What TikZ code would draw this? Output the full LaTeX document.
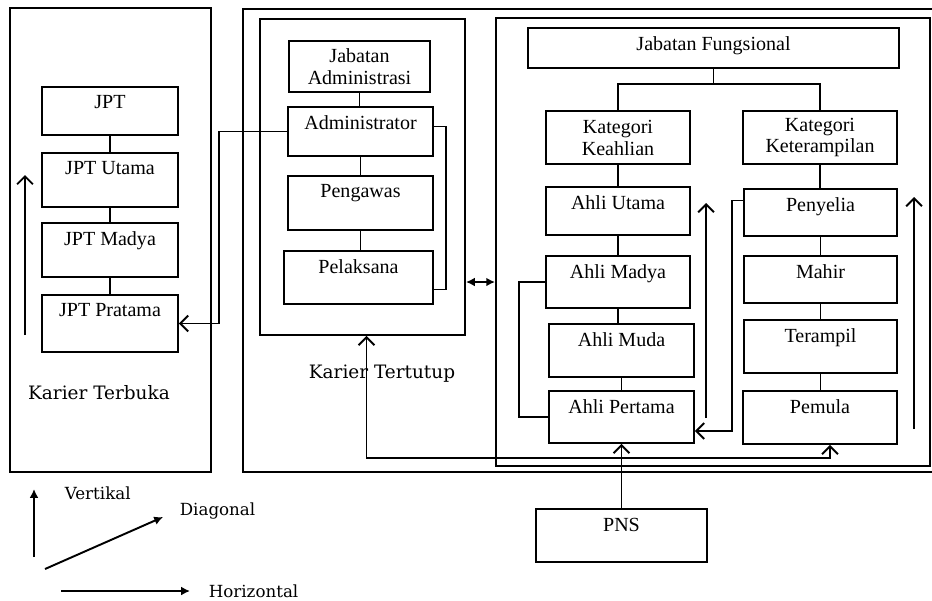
\documentclass[tikz,border=0pt]{standalone}
\usepackage{fontspec}
\setmainfont{Liberation Serif}
\newfontfamily\karierfont{DejaVu Serif}
\usetikzlibrary{arrows.meta,calc}
\begin{document}
\begin{tikzpicture}[x=0.02cm,y=-0.02cm,line width=1.1pt,
                    >={Straight Barb[length=4.5pt,width=9pt]},
                    every node/.style={font=\fontsize{11.4}{12.5}\selectfont},
                    box/.style 2 args={draw,inner sep=0pt,align=center,minimum width=#1*0.02cm,minimum height=#2*0.02cm},
                    top/.style={label={[anchor=north,inner sep=0pt,yshift=-5pt]north:#1}},
                    legend tip/.style={-{Latex[length=5pt,width=5pt]}},
                    karier/.style={font=\karierfont\fontsize{10.5}{12}\selectfont}
                   ]
  \useasboundingbox (0,0) rectangle (932,600);
  % frames
  \draw (10,8) rectangle (211,472);
  \draw (932,9) -| (243,472) -- (932,472);
  \node[box={205}{316}] (adm) at (362.5,177) {};
  \node[box={434}{448}] (fung) at (713,242) {};
  % karier terbuka
  \node[box={136}{48},top=JPT] (jpt) at (110,111) {};
  \node[box={136}{54},top=JPT Utama] (jptu) at (110,180) {};
  \node[box={136}{54},top=JPT Madya] (jptm) at (110,250) {};
  \node[box={136}{57},top=JPT Pratama] (jptp) at (110,323.5) {};
  \node[karier] (terbuka) at (99,393) {Karier Terbuka};
  % jabatan administrasi
  \node[box={141}{51}] (jadm) at (359.5,66.5) {Jabatan\\Administrasi};
  \node[box={145}{49},top=Administrator] (admr) at (360.5,131.5) {};
  \node[box={145}{54},top=Pengawas] (pengw) at (360.5,203) {};
  \node[box={149}{53},top=Pelaksana] (pelak) at (358.5,277.5) {};
  \node[karier] (tertutup) at (382,374) {Karier Tertutup};
  % jabatan fungsional
  \node[box={371}{40},top=Jabatan Fungsional] (jfung) at (713.5,48) {};
  \node[box={144}{53}] (kahli) at (618,137.5) {Kategori\\Keahlian};
  \node[box={154}{53}] (kterm) at (820,137.5) {Kategori\\Keterampilan};
  \node[box={144}{48},top=Ahli Utama] (autama) at (618,211) {};
  \node[box={144}{52},top=Ahli Madya] (amadya) at (618,282) {};
  \node[box={145}{53},top=Ahli Muda] (amuda) at (621.5,350.5) {};
  \node[box={145}{52},top=Ahli Pertama] (apert) at (621.5,417) {};
  \node[box={153}{47},top=Penyelia] (penye) at (820.5,212.5) {};
  \node[box={153}{47},top=Mahir] (mahir) at (820.5,279.5) {};
  \node[box={153}{53},top=Terampil] (teramp) at (820.5,346.5) {};
  \node[box={154}{53},top=Pemula] (pemula) at (820,417.5) {};
  \node[box={171}{53},top=PNS] (pns) at (621.5,535.5) {};
  % legend
  \coordinate (v0) at (34,557);   \coordinate (v1) at (34,489);
  \coordinate (d0) at (45,569);   \coordinate (d1) at (163,517);
  \coordinate (h0) at (61,591);   \coordinate (h1) at (190,591);
  \node[karier,font=\karierfont\fontsize{9.5}{11}\selectfont,anchor=west] (vert) at (58,493) {Vertikal};
  \node[karier,font=\karierfont\fontsize{9.5}{11}\selectfont,anchor=west] (diag) at (173,511) {Diagonal};
  \node[karier,font=\karierfont\fontsize{9.5}{11}\selectfont,anchor=west] (horz) at (202,591) {Horizontal};
  \draw[legend tip] (v0) -- (v1);
  \draw[legend tip] (d0) -- (d1);
  \draw[legend tip] (h0) -- (h1);
  % free arrows
  \coordinate (kt0) at (25,335);  \coordinate (kt1) at (25,175);
  \coordinate (ka0) at (706,418); \coordinate (ka1) at (706,203);
  \coordinate (kr0) at (914,429); \coordinate (kr1) at (914,197);
  \coordinate (jn) at (621.5,458);
  % stacks
  \path (jpt) edge (jptu)
        (jptu) edge (jptm)
        (jptm) edge (jptp);
  \draw (jadm.south) -- (jadm.south |- admr.north);
  \draw (admr.south) -- (admr.south |- pengw.north);
  \draw (pengw.south) -- (pengw.south |- pelak.north);
  \draw (jfung.south) -- ++(0,15) coordinate (jf) -| (kahli.north);
  \draw (jf) -| (kterm.north);
  \draw (kahli.south) -- (kahli.south |- autama.north);
  \draw (autama.south) -- (autama.south |- amadya.north);
  \draw (amadya.south) -- (amadya.south |- amuda.north);
  \draw (amuda.south) -- (amuda.south |- apert.north);
  \draw (kterm.south) -- (kterm.south |- penye.north);
  \draw (penye.south) -- (penye.south |- mahir.north);
  \draw (mahir.south) -- (mahir.south |- teramp.north);
  \draw (teramp.south) -- (teramp.south |- pemula.north);
  % movements
  \draw[->] (kt0) -- (kt1);
  \draw[->] (admr.west) -- ++(-68,0) |- (jptp.east);
  \draw ($(admr.east)+(0,-5)$) -- ++(12,0) |- ($(pelak.east)+(0,12)$);
  \draw[{Latex[length=5pt,width=5pt]}-{Latex[length=5pt,width=5pt]}] (amadya.west -| adm.east) -- (amadya.west -| fung.west);
  \draw (amadya.west) -- ++(-26,0) |- (apert.west);
  \draw[->] ($(penye.west)+(0,-12)$) -- ++(-11,0) |- ($(apert.east)+(0,14)$);
  \draw[->] (ka0) -- (ka1);
  \draw[->] (kr0) -- (kr1);
  \draw[->] (pns) -- (apert);
  \draw[->] (jn) -| ($(adm.south)+(4,0)$);
  \draw[->] (jn) -| ($(pemula.south)+(10,0)$);
\end{tikzpicture}
\end{document}
